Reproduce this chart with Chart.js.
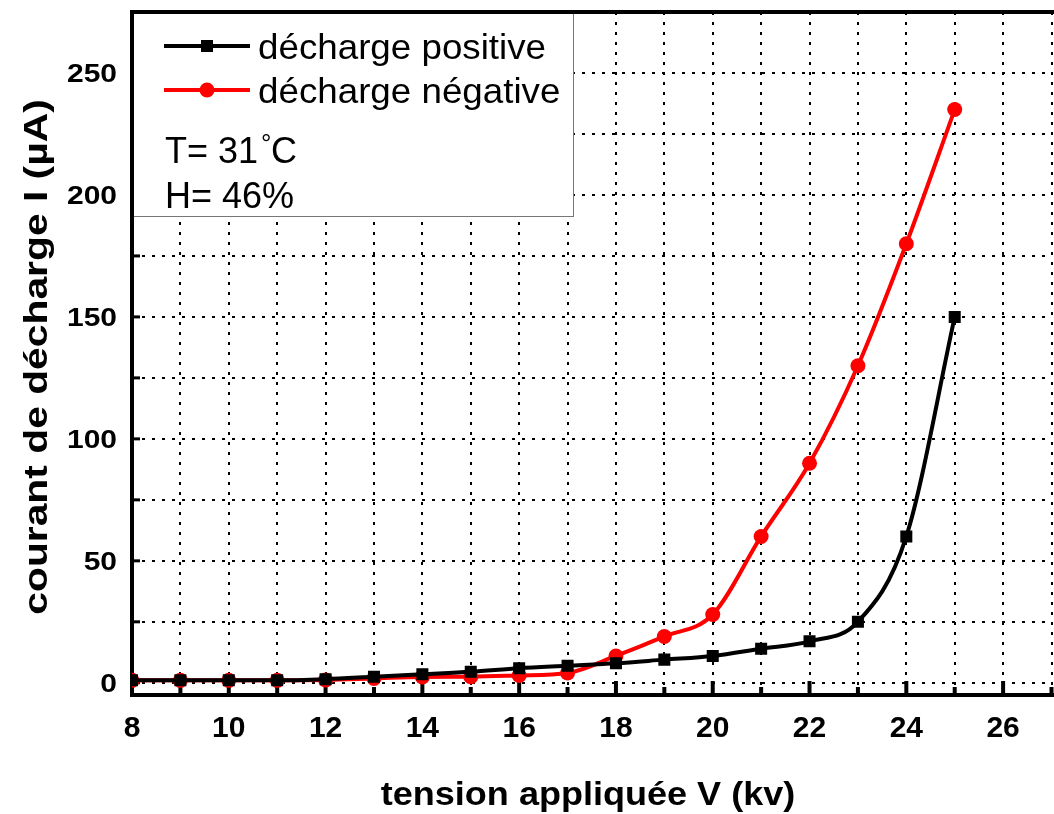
<!DOCTYPE html>
<html>
<head>
<meta charset="utf-8">
<title>Courant de décharge</title>
<script src="https://cdn.jsdelivr.net/npm/chart.js@4.4.1/dist/chart.umd.min.js"></script>
<style>
    html, body { margin: 0; padding: 0; background: #fff; overflow: hidden; }
    canvas { display: block; }
</style>
</head>
<body>
<canvas id="dischargeChart" width="1060" height="814"></canvas>
<script>
/* ===== data ===== */
const voltages = [8, 9, 10, 11, 12, 13, 14, 15, 16, 17, 18, 19, 20, 21, 22, 23, 24, 25];
const positiveCurrent = [1, 1, 1, 1, 1.5, 2.5, 3.5, 4.5, 6, 7, 8, 9.5, 11, 14, 17, 25, 60, 150];
const negativeCurrent = [1, 1, 1, 1, 1.2, 1.8, 2.4, 2.5, 3, 4, 11, 19, 28, 60, 90, 130, 180, 235];

const xTickLabels = [8, 10, 12, 14, 16, 18, 20, 22, 24, 26];
const yTickLabels = [0, 50, 100, 150, 200, 250];
const xGridValues = [8, 9, 10, 11, 12, 13, 14, 15, 16, 17, 18, 19, 20, 21, 22, 23, 24, 25, 26, 27];
const yGridValues = [0, 25, 50, 75, 100, 125, 150, 175, 200, 225, 250, 275];

const seriesNames = ["décharge positive", "décharge négative"];
const conditionLines = ["T= 31", "H= 46%"];

const xTitle = "tension appliquée V (kv)";
const yTitle = "courant de décharge I (µA)";

const FONT = "'Liberation Sans', Arial, sans-serif";

function drawText(ctx, text, x, y, font, align, stretch) {
    ctx.save();
    ctx.font = font;
    ctx.translate(x, y);
    ctx.scale(stretch || 1, 1);
    ctx.textAlign = align;
    ctx.textBaseline = "alphabetic";
    ctx.fillStyle = "#000";
    ctx.fillText(text, 0, 0);
    ctx.restore();
}

/* ===== frame, inward ticks, labels ===== */
const framePlugin = {
    id: "frame",
    beforeDatasetsDraw(chart) {
        const { ctx, chartArea: a, scales: { x, y } } = chart;
        ctx.save();
        ctx.strokeStyle = "#000";
        ctx.lineCap = "butt";

        // x ticks: long on labelled values, short in between
        ctx.lineWidth = 4;
        xGridValues.forEach(v => {
            const px = x.getPixelForValue(v);
            const len = xTickLabels.includes(v) ? 14 : 8;
            ctx.beginPath();
            ctx.moveTo(px, a.bottom);
            ctx.lineTo(px, a.bottom - len);
            ctx.stroke();
        });

        // y ticks
        ctx.lineWidth = 3;
        yGridValues.forEach(v => {
            const py = y.getPixelForValue(v);
            ctx.beginPath();
            ctx.moveTo(a.left, py);
            ctx.lineTo(a.left + 8, py);
            ctx.stroke();
        });

        // axes box (no right side)
        ctx.lineWidth = 4;
        ctx.beginPath();
        ctx.moveTo(a.left - 2, a.top);
        ctx.lineTo(chart.width, a.top);
        ctx.moveTo(a.left, a.top - 2);
        ctx.lineTo(a.left, a.bottom + 2);
        ctx.moveTo(a.left - 2, a.bottom);
        ctx.lineTo(chart.width, a.bottom);
        ctx.stroke();
        ctx.restore();

        // tick labels
        xTickLabels.forEach(v => {
            drawText(ctx, String(v), x.getPixelForValue(v), a.bottom + 42, "bold 30px " + FONT, "center");
        });
        yTickLabels.forEach(v => {
            drawText(ctx, String(v), a.left - 15, y.getPixelForValue(v) + 9, "bold 25px " + FONT, "right", 1.2);
        });

        // axis titles
        drawText(ctx, xTitle, 588, 805, "bold 34px " + FONT, "center", 1.06);
        ctx.save();
        ctx.translate(47, 357);
        ctx.rotate(-Math.PI / 2);
        drawText(ctx, yTitle, 0, 0, "bold 34px " + FONT, "center", 1.2);
        ctx.restore();
    },
    afterDatasetsDraw(chart) {
        const { ctx } = chart;
        ctx.save();

        // legend box
        ctx.fillStyle = "#fff";
        ctx.fillRect(134, 14, 439, 202);
        ctx.strokeStyle = "#777";
        ctx.lineWidth = 1;
        ctx.strokeRect(133.5, 12.5, 440, 204);

        // redraw the axis edges the box sits on
        ctx.strokeStyle = "#000";
        ctx.lineWidth = 4;
        ctx.beginPath();
        ctx.moveTo(132, 10);
        ctx.lineTo(132, 220);
        ctx.moveTo(130, 12);
        ctx.lineTo(580, 12);
        ctx.stroke();

        const colors = ["#000", "#ff0000"];
        const rows = [46, 90];
        rows.forEach((ry, i) => {
            ctx.strokeStyle = colors[i];
            ctx.fillStyle = colors[i];
            ctx.lineWidth = 4;
            ctx.beginPath();
            ctx.moveTo(164, ry);
            ctx.lineTo(250, ry);
            ctx.stroke();
            ctx.beginPath();
            if (i === 0) {
                ctx.rect(201, ry - 6, 12, 12);
            } else {
                ctx.arc(207, ry, 7.5, 0, Math.PI * 2);
            }
            ctx.fill();
            drawText(ctx, seriesNames[i], 258, ry + 13, "35px " + FONT, "left", 1.05);
        });

        // conditions
        ctx.font = "36px " + FONT;
        const w = ctx.measureText(conditionLines[0]).width;
        drawText(ctx, conditionLines[0], 165, 163, "36px " + FONT, "left");
        drawText(ctx, "°", 165 + w + 3, 152, "26px " + FONT, "left");
        drawText(ctx, "C", 165 + w + 13, 163, "36px " + FONT, "left");
        drawText(ctx, conditionLines[1], 165, 208, "36px " + FONT, "left");

        ctx.restore();
    }
};

const toPoints = values => voltages.map((v, i) => ({ x: v, y: values[i] }));

new Chart(document.getElementById("dischargeChart"), {
    type: "line",
    data: {
        datasets: [
            {
                label: seriesNames[0],
                data: toPoints(positiveCurrent),
                borderColor: "#000",
                backgroundColor: "#000",
                borderWidth: 4,
                pointStyle: "rect",
                pointRadius: 8.5,
                pointBorderWidth: 0,
                cubicInterpolationMode: "monotone",
                clip: { left: 0, top: 10, right: 10, bottom: 10 }
            },
            {
                label: seriesNames[1],
                data: toPoints(negativeCurrent),
                borderColor: "#ff0000",
                backgroundColor: "#ff0000",
                borderWidth: 4,
                pointStyle: "circle",
                pointRadius: 7.5,
                pointBorderWidth: 0,
                cubicInterpolationMode: "monotone",
                clip: { left: 0, top: 10, right: 10, bottom: 10 }
            }
        ]
    },
    options: {
        responsive: false,
        animation: false,
        events: [],
        layout: { padding: { left: 132, top: 12, right: 3, bottom: 119 } },
        plugins: { legend: { display: false }, tooltip: { enabled: false } },
        scales: {
            x: {
                type: "linear",
                min: 8,
                max: 27,
                afterBuildTicks: s => { s.ticks = xGridValues.map(v => ({ value: v })); },
                afterFit: s => { s.height = 0; },
                ticks: { display: false },
                grid: { color: "#000", lineWidth: 2, drawTicks: false },
                border: { display: false, dash: [3, 7] }
            },
            y: {
                min: -5,
                max: 275,
                afterBuildTicks: s => { s.ticks = yGridValues.map(v => ({ value: v })); },
                afterFit: s => { s.width = 0; },
                ticks: { display: false },
                grid: { color: "#000", lineWidth: 2, drawTicks: false },
                border: { display: false, dash: [3, 7] }
            }
        }
    },
    plugins: [framePlugin]
});
</script>
</body>
</html>
